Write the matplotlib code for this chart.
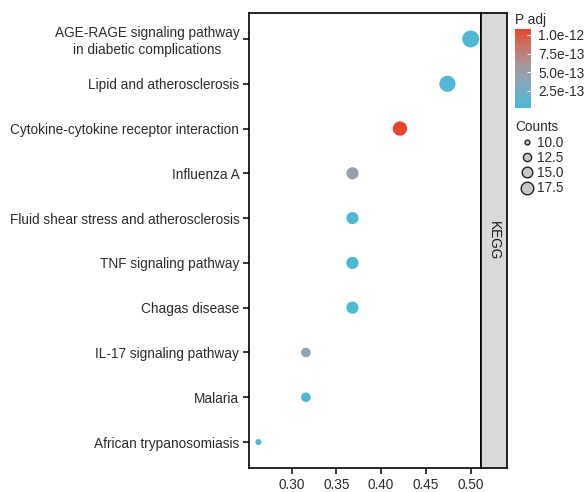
import numpy as np
import matplotlib
matplotlib.use("Agg")
from matplotlib import pyplot as plt
from matplotlib.colors import LinearSegmentedColormap, Normalize
from matplotlib.lines import Line2D

plt.rcParams['font.family'] = ['Liberation Sans', 'DejaVu Sans']

# KEGG 富集结果
pathways = ['AGE-RAGE signaling pathway\nin diabetic complications',
            'Lipid and atherosclerosis',
            'Cytokine-cytokine receptor interaction',
            'Influenza A',
            'Fluid shear stress and atherosclerosis',
            'TNF signaling pathway',
            'Chagas disease',
            'IL-17 signaling pathway',
            'Malaria',
            'African trypanosomiasis']
gene_ratio = [0.500, 0.474, 0.421, 0.368, 0.368, 0.368, 0.368, 0.316, 0.316, 0.263]
counts = [19, 18, 16, 14, 14, 14, 14, 12, 12, 10]
padj = [3e-14, 4e-14, 1.08e-12, 4.5e-13, 3e-14, 2.5e-14, 3e-14, 4.3e-13, 3e-14, 2.2e-14]

cbar_ticks = [2.5e-13, 5.0e-13, 7.5e-13, 1.0e-12]
size_breaks = [10.0, 12.5, 15.0, 17.5]

txt = '#2b2b2b'
fs = 9.8

cmap = LinearSegmentedColormap.from_list('padj', [
    (0.0, '#4DB8D5'), (0.35, '#8BA6B7'), (0.55, '#A8959B'),
    (0.78, '#CB7366'), (1.0, '#E8462C')])
norm = Normalize(vmin=min(padj), vmax=max(padj))


def dot_size(c):
    # 面积随 count 线性变化, 返回 points^2
    d_px = np.sqrt(36 + (np.asarray(c) - 10) * 28.1)
    return (d_px * 0.72) ** 2


fig = plt.figure(figsize=(5.87, 4.92), dpi=100)
W, H = 587, 492
ax = fig.add_axes([249 / W, 1 - 468 / H, 232 / W, 455 / H])

ypos = np.arange(len(pathways))[::-1]
ax.scatter(gene_ratio, ypos, s=dot_size(counts), c=padj, cmap=cmap, norm=norm,
           linewidths=0, zorder=3)
ax.set_xlim(0.2525, 0.5115)
ax.set_ylim(-0.58, len(pathways) - 1 + 0.58)
ax.set_yticks(ypos)
ax.set_yticklabels(pathways)
for lab in ax.get_yticklabels():
    lab.set_multialignment('center')
ax.set_xticks([0.30, 0.35, 0.40, 0.45, 0.50])
ax.set_xticklabels(['0.30', '0.35', '0.40', '0.45', '0.50'])
ax.tick_params(axis='both', length=4, width=1.1, color='black', labelsize=fs,
               labelcolor=txt, pad=3)
for sp in ax.spines.values():
    sp.set_linewidth(1.2)

# 右侧 KEGG 条带
strip = fig.add_axes([481 / W, 1 - 468 / H, 26 / W, 455 / H])
strip.set_facecolor('#d9d9d9')
strip.set_xticks([])
strip.set_yticks([])
for sp in strip.spines.values():
    sp.set_linewidth(1.2)
strip.text(0.5, 0.5, 'KEGG', rotation=-90, ha='center', va='center',
           fontsize=fs, color='#1a1a1a', transform=strip.transAxes)

# P adj 色条
cax = fig.add_axes([515 / W, 1 - 108 / H, 16 / W, 79 / H])
sm = plt.cm.ScalarMappable(cmap=cmap, norm=norm)
cb = fig.colorbar(sm, cax=cax, ticks=cbar_ticks)
cb.outline.set_visible(False)
cb.ax.set_yticklabels(['%.1e' % t for t in cbar_ticks])
cb.ax.tick_params(color='white', direction='in', length=3, width=0.8,
                  labelsize=fs, labelcolor=txt, pad=5)
fig.text(515 / W, 1 - 20 / H, 'P adj', fontsize=fs, color=txt, va='center')

# Counts 图例
fig.text(515 / W, 1 - 127 / H, 'Counts', fontsize=fs, color=txt, va='center')
handles = [Line2D([], [], marker='o', linestyle='none',
                  markersize=0.8 * np.sqrt(dot_size(b)), markerfacecolor='#c8c8c8',
                  markeredgecolor='#222222', markeredgewidth=1.0)
           for b in size_breaks]
fig.legend(handles, ['%.1f' % b for b in size_breaks], loc='upper left',
           bbox_to_anchor=(519 / W, 1 - 136 / H), frameon=False, fontsize=fs,
           labelcolor=txt, handlelength=1.2, handletextpad=0.15,
           labelspacing=0.08, borderpad=0, borderaxespad=0)

fig.savefig('out.png', dpi=100)
